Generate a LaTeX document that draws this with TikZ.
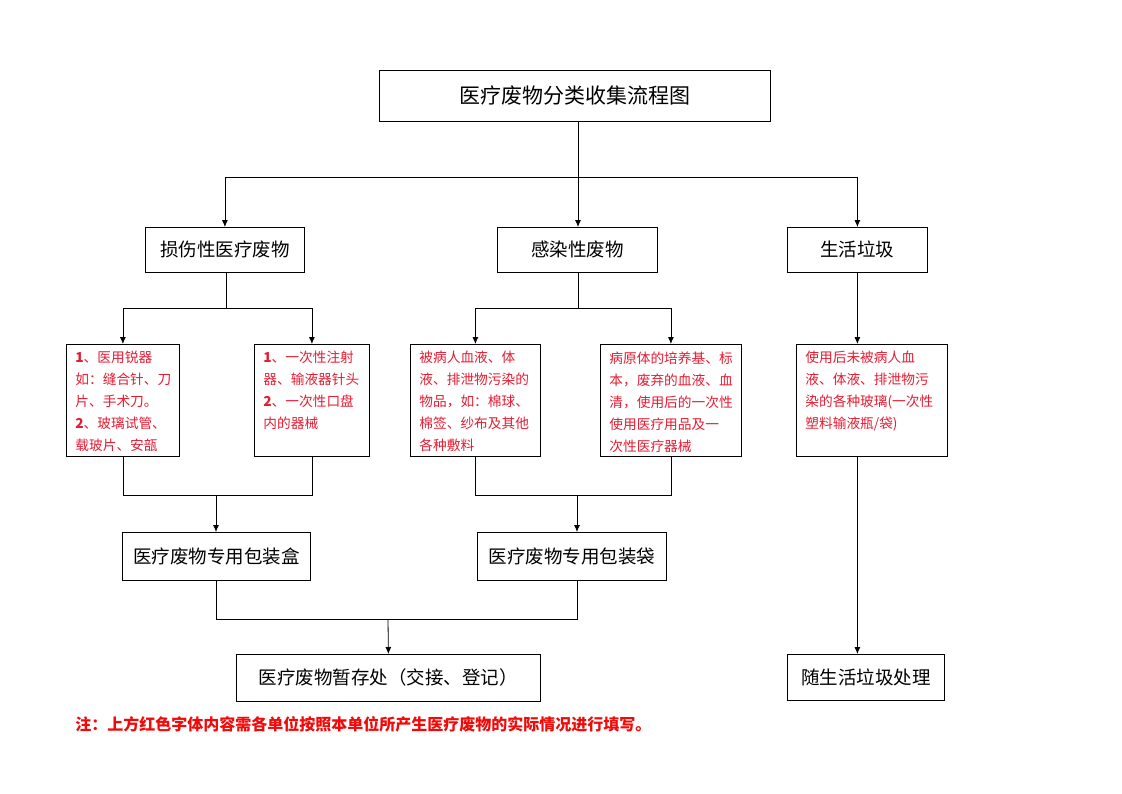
\documentclass[tikz,border=0pt]{standalone}
\usepackage{fontspec}
\setmainfont{Noto Sans CJK SC}
\usetikzlibrary{arrows.meta}
\definecolor{wastered}{RGB}{228,28,50}
\definecolor{notered}{RGB}{240,10,10}
% red item list inside a fixed height box
\newcommand{\redlist}[2]{\parbox[t][98pt][t]{#1}{\fontsize{13.7}{22}\selectfont\color{wastered}#2}}

\begin{document}
\begin{tikzpicture}[x=1pt,y=-1pt,line width=0.8pt,
  box/.style={draw,anchor=north west,inner sep=0pt,font=\fontsize{18.5}{22}\selectfont},
  listbox/.style={draw,anchor=north west,inner xsep=9pt,inner ysep=7pt},
  arr/.style={-{Latex[length=7pt,width=6pt]}}]
\useasboundingbox (0,0) rectangle (1122,793);

% headline
\node[box,minimum width=391,minimum height=51,font=\fontsize{21}{25}\selectfont] (title) at (379,70) {医疗废物分类收集流程图};

% three kinds of waste
\node[box,minimum width=159,minimum height=45] (sharp) at (145,227) {损伤性医疗废物};
\node[box,minimum width=160,minimum height=45] (infect) at (497,227) {感染性废物};
\node[box,minimum width=140,minimum height=45] (life) at (787,227) {生活垃圾};

% red lists
\node[listbox] (r1) at (66,344) {\redlist{95pt}{\textbf{1}、医用锐器\\如：缝合针、刀\\片、手术刀。\\\textbf{2}、玻璃试管、\\载玻片、安瓿}};
\node[listbox] (r2) at (254,344) {\redlist{97pt}{\textbf{1}、一次性注射\\器、输液器针头\\\textbf{2}、一次性口盘\\内的器械}};
\node[listbox] (r3) at (410,344) {\redlist{112pt}{被病人血液、体\\液、排泄物污染的\\物品，如：棉球、\\棉签、纱布及其他\\各种敷料}};
\node[listbox] (r4) at (600,344) {\redlist{123pt}{病原体的培养基、标\\本，废弃的血液、血\\清，使用后的一次性\\使用医疗用品及一\\次性医疗器械}};
\node[listbox] (r5) at (796,344) {\redlist{133pt}{使用后未被病人血\\液、体液、排泄物污\\染的各种玻璃(一次性\\塑料输液瓶/袋)}};

% packing
\node[box,minimum width=188,minimum height=48] (box1) at (122,532) {医疗废物专用包装盒};
\node[box,minimum width=189,minimum height=48] (bag2) at (477,532) {医疗废物专用包装袋};

% final places
\node[box,minimum width=304,minimum height=47] (store) at (236,654) {医疗废物暂存处（交接、登记）};
\node[box,minimum width=157,minimum height=46] (house) at (787,654) {随生活垃圾处理};

\node[anchor=west,inner sep=0pt,text=notered,font=\fontsize{16}{19}\selectfont\bfseries] (note) at (75,724) {注：上方红色字体内容需各单位按照本单位所产生医疗废物的实际情况进行填写。};

% junctions
\coordinate (j0) at (578,177);
\coordinate (j1) at (226,308);
\coordinate (j2) at (578,308);
\coordinate (j3) at (216,495);
\coordinate (j4) at (577,495);
\coordinate (j5) at (388,619);

\draw (title.south -| j0) -- (j0);
\draw (j0 -| sharp) -- (j0 -| life);
\draw[arr] (j0 -| sharp) -- (sharp.north);
\draw[arr] (j0) -- (j0 |- infect.north);
\draw[arr] (j0 -| life) -- (life.north);

\draw (sharp.south -| j1) -- (j1);
\draw (j1 -| r1) -- (j1 -| r2);
\draw[arr] (j1 -| r1) -- (r1.north);
\draw[arr] (j1 -| r2) -- (r2.north);

\draw (infect.south -| j2) -- (j2);
\draw (j2 -| r3) -- (j2 -| r4);
\draw[arr] (j2 -| r3) -- (r3.north);
\draw[arr] (j2 -| r4) -- (r4.north);

\draw[arr] (life.south) -- (life.south |- r5.north);

\draw (r1.south) -- (r1.south |- j3) -- (r2.south |- j3) -- (r2.south);
\draw[arr] (j3) -- (j3 |- box1.north);
\draw (r3.south) -- (r3.south |- j4) -- (r4.south |- j4) -- (r4.south);
\draw[arr] (j4) -- (j4 |- bag2.north);

\draw (box1.south -| j3) -- (j3 |- j5) -- (j4 |- j5) -- (bag2.south -| j4);
\draw[arr] (j5) -- (store.north);

\draw[arr] (life.south |- r5.south) -- (life.south |- house.north);
\end{tikzpicture}
\end{document}
